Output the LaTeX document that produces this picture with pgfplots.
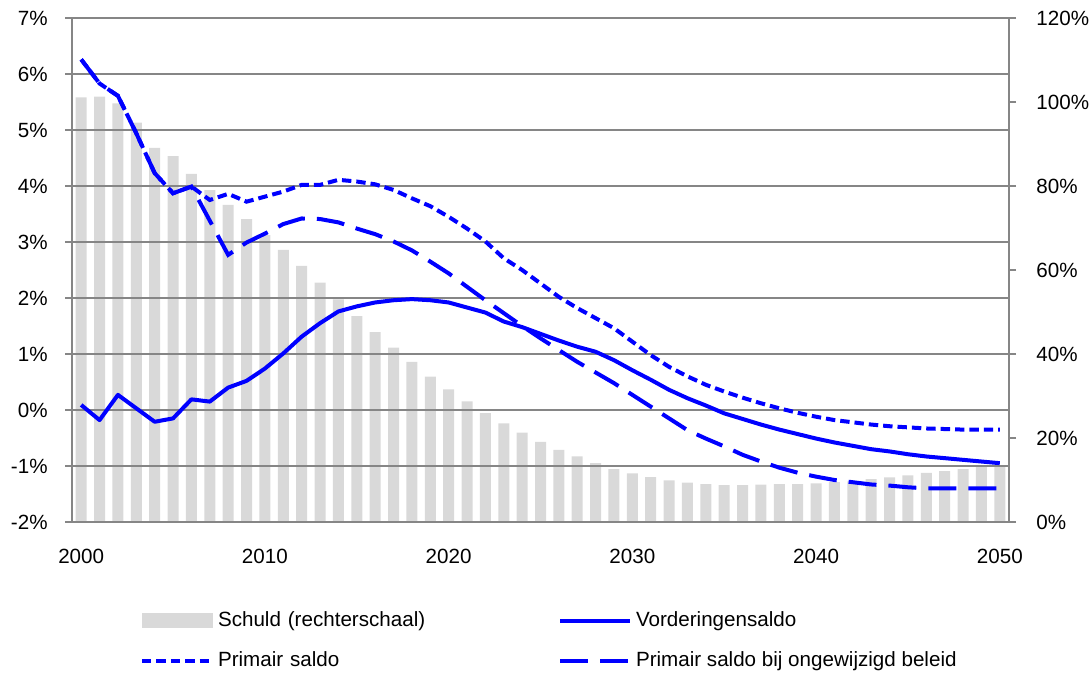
\documentclass[border=0pt]{standalone}
\usepackage{fontspec}
\setmainfont{Liberation Sans}
\usepackage{pgfplots}
\pgfplotsset{compat=1.18}
\definecolor{barcol}{HTML}{D9D9D9}
\definecolor{axcol}{HTML}{868686}
\definecolor{lineblue}{HTML}{0000FF}
\newcommand{\lblfont}{\fontsize{10.3}{12}\selectfont}
\begin{document}
\begin{tikzpicture}
\pgfplotsset{
  common/.style={
    width=468.5pt, height=252pt, scale only axis,
    at={(0,0)}, anchor=south west,
    xmin=1999.5, xmax=2050.5,
    tick align=outside, major tick length=3.5pt,
    tick label style={font=\lblfont},
    axis line style={draw=axcol, line width=0.75pt},
    every tick/.style={draw=axcol, line width=0.75pt},
  }
}
% right axis with bars
\begin{axis}[common,
  axis x line=none,
  axis y line*=right,
  ymin=0, ymax=120,
  ytick={0,20,40,60,80,100,120},
  yticklabels={0\%,20\%,40\%,60\%,80\%,100\%,120\%},
  yticklabel style={anchor=west, inner sep=0pt, xshift=10pt},
]
\addplot[ybar, bar width=5.5pt, bar shift=0pt, fill=barcol, draw=none] coordinates {
(2000,101.1)(2001,101.3)(2002,99.7)(2003,95.1)(2004,89.1)(2005,87.1)(2006,82.9)(2007,79.0)(2008,75.5)(2009,72.1)
(2010,68.3)(2011,64.8)(2012,61.0)(2013,57.0)(2014,53.0)(2015,49.0)(2016,45.2)(2017,41.5)(2018,38.1)(2019,34.6)
(2020,31.6)(2021,28.7)(2022,25.9)(2023,23.5)(2024,21.3)(2025,19.1)(2026,17.2)(2027,15.6)(2028,14.0)(2029,12.6)
(2030,11.6)(2031,10.7)(2032,9.9)(2033,9.4)(2034,9.0)(2035,8.8)(2036,8.8)(2037,8.9)(2038,9.0)(2039,9.0)
(2040,9.2)(2041,9.5)(2042,9.7)(2043,10.2)(2044,10.6)(2045,11.1)(2046,11.7)(2047,12.1)(2048,12.6)(2049,13.1)(2050,13.5)
};
\end{axis}
% left axis with lines
\begin{axis}[common,
  axis x line*=bottom,
  axis y line*=left,
  ymin=-2, ymax=7,
  ytick={-2,-1,0,1,2,3,4,5,6,7},
  yticklabels={-2\%,-1\%,0\%,1\%,2\%,3\%,4\%,5\%,6\%,7\%},
  yticklabel style={anchor=east, inner sep=0pt, xshift=-8.5pt},
  xtick={2000,2010,2020,2030,2040,2050},
  xticklabels={2000,2010,2020,2030,2040,2050},
  xtick style={draw=none},
  xticklabel style={anchor=north, inner sep=0pt, yshift=-10pt},
  ymajorgrids,
  grid style={draw=axcol, line width=0.75pt},
  legend columns=2,
  legend cell align=left,
  legend style={at={(0.0726,-0.1746)}, anchor=north west, draw=none, fill=none,
    inner sep=0pt, outer sep=0pt, row sep=9.5pt, column sep=0pt,
    font=\lblfont,
    nodes={inner sep=0pt, text height=8pt, text depth=2.5pt},
    /tikz/every odd column/.append style={column sep=2pt}},
  legend image code/.code={\draw[#1] (0pt,0pt) -- (35pt,0pt);},
]
\addlegendimage{legend image code/.code={\fill[barcol] (0pt,-3.4pt) rectangle (35pt,3.4pt);}}
\addlegendentry[text width=170pt]{Schuld (rechterschaal)}
\addplot[lineblue, line width=2pt, line join=round] coordinates {
(2000,0.09)(2001,-0.18)(2002,0.27)(2003,0.03)(2004,-0.21)(2005,-0.15)(2006,0.19)(2007,0.15)(2008,0.40)(2009,0.52)
(2010,0.74)(2011,1.01)(2012,1.31)(2013,1.55)(2014,1.76)(2015,1.85)(2016,1.92)(2017,1.96)(2018,1.98)(2019,1.96)
(2020,1.92)(2021,1.83)(2022,1.74)(2023,1.58)(2024,1.48)(2025,1.36)(2026,1.24)(2027,1.13)(2028,1.04)(2029,0.89)
(2030,0.71)(2031,0.54)(2032,0.36)(2033,0.21)(2034,0.08)(2035,-0.06)(2036,-0.16)(2037,-0.26)(2038,-0.35)(2039,-0.43)
(2040,-0.51)(2041,-0.58)(2042,-0.64)(2043,-0.70)(2044,-0.74)(2045,-0.79)(2046,-0.83)(2047,-0.86)(2048,-0.89)(2049,-0.92)(2050,-0.95)
};
\addlegendentry{Vorderingensaldo}
\addplot[lineblue, line width=2pt, dash pattern=on 4.7pt off 2.5pt] coordinates {
(2000,6.26)(2001,5.83)(2002,5.61)(2003,4.94)(2004,4.23)(2005,3.87)(2006,3.99)(2007,3.75)(2008,3.86)(2009,3.72)
(2010,3.81)(2011,3.90)(2012,4.02)(2013,4.02)(2014,4.11)(2015,4.08)(2016,4.03)(2017,3.93)(2018,3.78)(2019,3.64)
(2020,3.45)(2021,3.24)(2022,3.01)(2023,2.71)(2024,2.50)(2025,2.26)(2026,2.02)(2027,1.82)(2028,1.64)(2029,1.46)
(2030,1.22)(2031,0.98)(2032,0.77)(2033,0.60)(2034,0.45)(2035,0.33)(2036,0.22)(2037,0.12)(2038,0.03)(2039,-0.05)
(2040,-0.12)(2041,-0.18)(2042,-0.22)(2043,-0.26)(2044,-0.29)(2045,-0.31)(2046,-0.33)(2047,-0.34)(2048,-0.35)(2049,-0.35)(2050,-0.35)
};
\addlegendentry[text width=170pt]{Primair saldo}
\addplot[lineblue, line width=2pt, dash pattern=on 14pt off 6pt] coordinates {
(2000,6.26)(2001,5.83)(2002,5.61)(2003,4.94)(2004,4.23)(2005,3.87)(2006,3.99)(2007,3.38)(2008,2.77)(2009,2.99)
(2010,3.15)(2011,3.32)(2012,3.42)(2013,3.41)(2014,3.35)(2015,3.24)(2016,3.14)(2017,3.01)(2018,2.85)(2019,2.65)
(2020,2.44)(2021,2.20)(2022,1.96)(2023,1.73)(2024,1.50)(2025,1.28)(2026,1.07)(2027,0.86)(2028,0.67)(2029,0.48)
(2030,0.27)(2031,0.06)(2032,-0.15)(2033,-0.36)(2034,-0.51)(2035,-0.65)(2036,-0.80)(2037,-0.92)(2038,-1.03)(2039,-1.12)
(2040,-1.19)(2041,-1.25)(2042,-1.29)(2043,-1.33)(2044,-1.35)(2045,-1.38)(2046,-1.40)(2047,-1.40)(2048,-1.40)(2049,-1.40)(2050,-1.40)
};
\addlegendentry{Primair saldo bij ongewijzigd beleid}
\end{axis}
\pgfresetboundingbox
\path[use as bounding box] (-36pt,-75.5pt) rectangle (509.5pt,261pt);
\end{tikzpicture}
\end{document}
